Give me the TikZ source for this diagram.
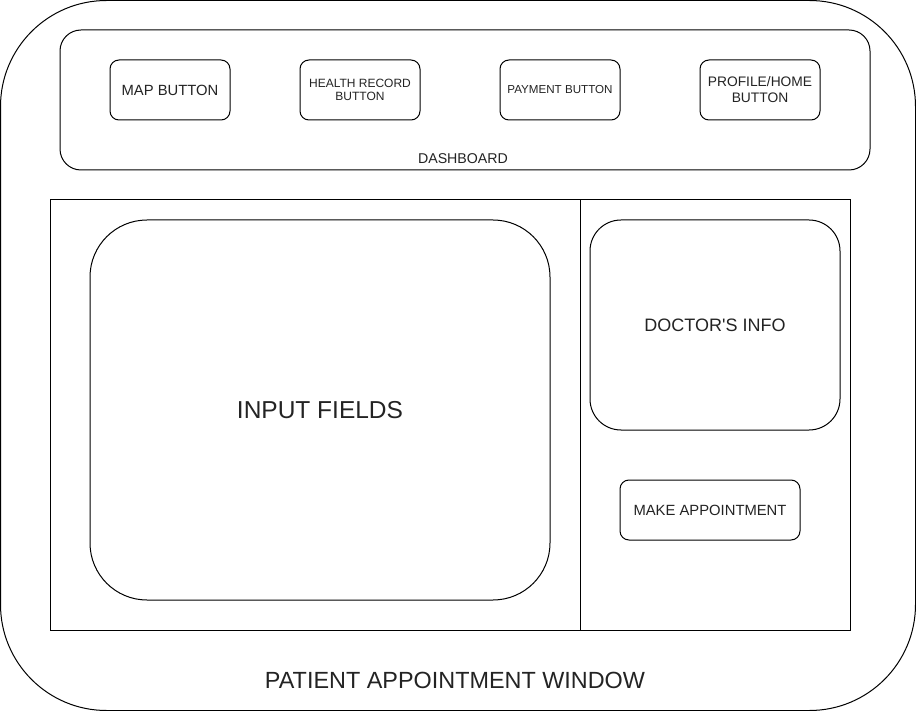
\documentclass[tikz,border=0pt]{standalone}
\usepackage{fontspec}
\setmainfont{Liberation Sans}
\usepackage{xcolor}
\definecolor{ink}{RGB}{35,35,35}
\usepackage{tikz}
\usetikzlibrary{positioning}
\newcommand{\setsize}[2]{\fontsize{#1}{#2}\selectfont}
\tikzset{
  win/.style={draw,rounded corners=106pt,line width=1pt},
  panel/.style={draw,rounded corners=21pt,line width=1pt},
  pane/.style={draw,line width=1pt},
  field/.style={draw,line width=1pt,text=ink,align=center},
  btn/.style={draw,rounded corners=9pt,line width=1pt,text=ink,%
    align=center,minimum width=120pt,minimum height=60pt,inner sep=2pt},
  caption/.style={text=ink,inner sep=0pt},
}
\begin{document}
\begin{tikzpicture}[x=1pt,y=-1pt]
\useasboundingbox (0,0) rectangle (916,711);
\node[win,minimum width=915pt,minimum height=710pt] (window) at (458,355.5) {};
\node[panel,minimum width=810pt,minimum height=140pt] (dash) at (465,100) {};
\node[btn,font=\setsize{14.8}{17}] (map) at (170,90) {MAP BUTTON};
\node[btn,font=\setsize{12}{13.5}] (health) at (360,90) {HEALTH RECORD\\BUTTON};
\node[btn,font=\setsize{11.6}{13.5}] (pay) at (560,90) {PAYMENT BUTTON};
\node[btn,font=\setsize{13.8}{16}] (profile) at (760,90) {PROFILE/HOME\\BUTTON};
\node[caption,font=\setsize{14.2}{16}] (dashlbl) at (463,159) {DASHBOARD};
% main area
\node[pane,minimum width=530pt,minimum height=430pt] (left) at (315,415) {};
\node[pane,minimum width=270pt,minimum height=430pt] (right) at (715,415) {};
\node[field,rounded corners=57pt,minimum width=460pt,minimum height=380pt,%
  font=\setsize{24.5}{28}] (input) at (320,410) {INPUT FIELDS};
\node[field,rounded corners=31pt,minimum width=250pt,minimum height=210pt,%
  font=\setsize{18}{21}] (doctor) at (715,325) {DOCTOR\textquotesingle S INFO};
\node[field,rounded corners=9pt,minimum width=180pt,minimum height=60pt,%
  font=\setsize{14.8}{17}] (appoint) at (710,510) {MAKE APPOINTMENT};
\node[caption,font=\setsize{23.4}{27}] (winlbl) at (455,680) {PATIENT APPOINTMENT WINDOW};
\end{tikzpicture}
\end{document}
